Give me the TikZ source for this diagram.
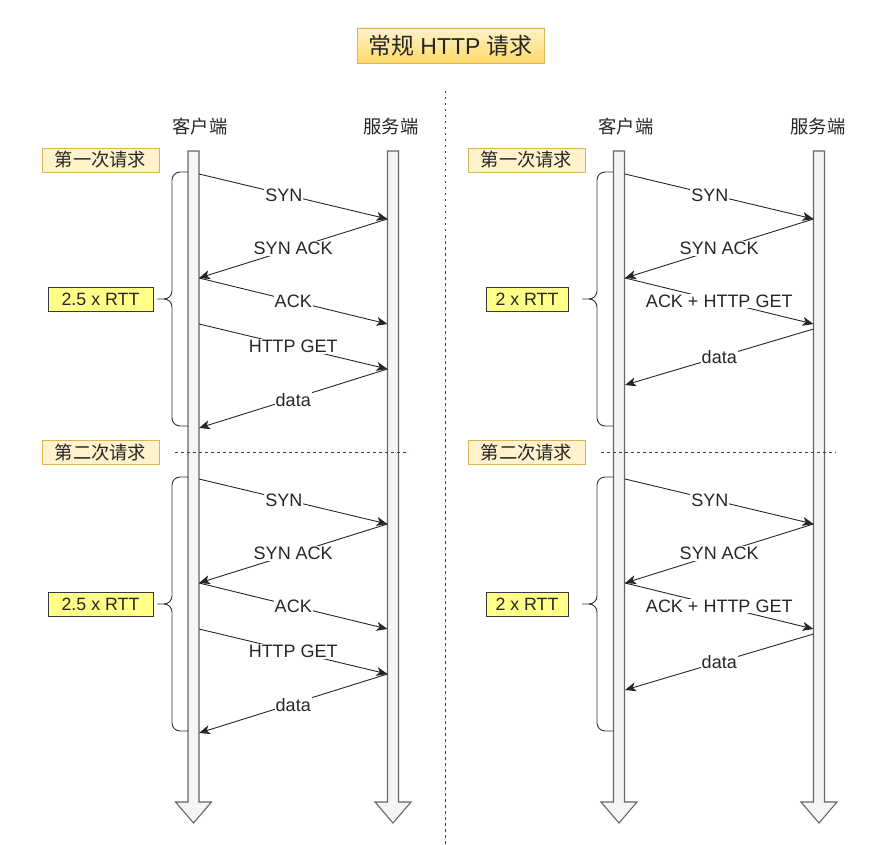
\documentclass[tikz,border=0pt]{standalone}
\usepackage{fontspec}
\setmainfont{Liberation Sans}
\newfontfamily\cjk{Noto Sans CJK SC}
\usetikzlibrary{arrows.meta}
\definecolor{notefill}{HTML}{FFF2CC}
\definecolor{noteline}{HTML}{D6B656}
\definecolor{rttfill}{HTML}{FFFF88}
\definecolor{rttline}{HTML}{36393D}
\definecolor{barfill}{HTML}{F5F5F5}
\definecolor{barline}{HTML}{666666}
\definecolor{titletop}{HTML}{FFF2CC}
\definecolor{titlebot}{HTML}{FFD966}
\tikzset{
  lifeline/.style={fill=barfill,draw=barline,line width=1.1pt,line join=miter},
  msg/.style={draw=black!85,line width=0.9pt,-{Stealth[length=11pt,width=9pt,inset=3pt]}},
  msglabel/.style={fill=white,inner sep=1pt,font=\fontsize{18}{20}\selectfont,text=black!85},
  reqbox/.style={fill=notefill,draw=noteline,line width=0.8pt,minimum width=117pt,minimum height=24pt,inner sep=0pt,font=\cjk\fontsize{18.3}{20}\selectfont,text=black!85},
  rttbox/.style={fill=rttfill,draw=rttline,line width=0.8pt,minimum height=24pt,inner sep=0pt,font=\fontsize{17.8}{20}\selectfont,text=black!85},
  sidelabel/.style={font=\cjk\fontsize{18.3}{20}\selectfont,text=black!85},
  brace/.style={draw=black!80,line width=0.9pt},
  divider/.style={draw=black!75,line width=1pt,dash pattern=on 2.5pt off 3.5pt},
}
\begin{document}
\begin{tikzpicture}[x=1pt,y=-1pt]
\useasboundingbox (0,0) rectangle (894,845);

% title
\node[draw=noteline,line width=0.8pt,top color=titletop,bottom color=titlebot,
      minimum width=187pt,minimum height=35pt,inner sep=0pt,text=black!85,
      font=\fontsize{23}{26}\selectfont] (title) at (450.5,45.5)
      {{\cjk 常规} HTTP {\cjk 请求}};

% separator between the two schemes
\coordinate (divtop) at (445.5,91);
\coordinate (divbot) at (445.5,845);
\draw[divider] (divtop) -- (divbot);

% lifelines drawn as down arrows
\foreach \nm/\cx in {lc/193.5, ls/393, rc/619, rs/819}{
  \draw[lifeline] (\cx-5.5,151) -- (\cx+5.5,151) -- (\cx+5.5,802) -- (\cx+18,802)
     -- (\cx,823) -- (\cx-18,802) -- (\cx-5.5,802) -- cycle;
  \coordinate (\nm) at (\cx,151);
}

% column headings
\node[sidelabel] (lclabel) at (200,127) {客户端};
\node[sidelabel] (lslabel) at (391,127) {服务端};
\node[sidelabel] (rclabel) at (626,127) {客户端};
\node[sidelabel] (rslabel) at (818,127) {服务端};

% separators between first and second request
\coordinate (lsepa) at (175,452);
\coordinate (lsepb) at (409,452);
\coordinate (rsepa) at (601,452);
\coordinate (rsepb) at (836,452);
\draw[divider,line width=0.9pt] (lsepa) -- (lsepb);
\draw[divider,line width=0.9pt] (rsepa) -- (rsepb);

% request tags
\node[reqbox] (lreq1) at (100.5,160) {第一次请求};
\node[reqbox] (lreq2) at (100.5,452.5) {第二次请求};
\node[reqbox] (rreq1) at (526.5,160) {第一次请求};
\node[reqbox] (rreq2) at (526.5,452.5) {第二次请求};

\foreach \i/\o in {1/0, 2/305}{
  % --- regular HTTP: separate ACK and GET ---
  \coordinate (lc1\i) at (199,174+\o);
  \coordinate (ls1\i) at (387.5,219+\o);
  \coordinate (lc2\i) at (199,278+\o);
  \coordinate (ls2\i) at (387.5,324+\o);
  \coordinate (lc3\i) at (199,324+\o);
  \coordinate (ls3\i) at (387.5,369+\o);
  \coordinate (lc4\i) at (199,428+\o);
  \draw[msg] (lc1\i) -- node[msglabel,pos=0.45,yshift=-1.5pt] {SYN} (ls1\i);
  \draw[msg] (ls1\i) -- node[msglabel] {SYN ACK} (lc2\i);
  \draw[msg] (lc2\i) -- node[msglabel] {ACK} (ls2\i);
  \draw[msg] (lc3\i) -- node[msglabel] {HTTP GET} (ls3\i);
  \draw[msg] (ls3\i) -- node[msglabel,yshift=-1.5pt] {data} (lc4\i);

  \draw[brace] (188,172+\o) -- (180,172+\o) to[out=180,in=90] (172,180+\o)
     -- (172,291+\o) to[out=-90,in=0] (164,299+\o) -- (157,299+\o);
  \draw[brace] (164,299+\o) to[out=0,in=90] (172,307+\o)
     -- (172,418+\o) to[out=-90,in=180] (180,426+\o) -- (188,426+\o);
  \node[rttbox,minimum width=105pt] (lrtt\i) at (100.5,299+\o) {2.5 x RTT};

  % --- ACK piggy-backs the GET ---
  \coordinate (rc1\i) at (625,174+\o);
  \coordinate (rs1\i) at (813.5,219+\o);
  \coordinate (rc2\i) at (625,278+\o);
  \coordinate (rs2\i) at (813.5,324+\o);
  \coordinate (rs3\i) at (813.5,329+\o);
  \coordinate (rc3\i) at (625,385+\o);
  \draw[msg] (rc1\i) -- node[msglabel,pos=0.45,yshift=-1.5pt] {SYN} (rs1\i);
  \draw[msg] (rs1\i) -- node[msglabel] {SYN ACK} (rc2\i);
  \draw[msg] (rc2\i) -- node[msglabel] {ACK + HTTP GET} (rs2\i);
  \draw[msg] (rs3\i) -- node[msglabel] {data} (rc3\i);

  \draw[brace] (613,172+\o) -- (605,172+\o) to[out=180,in=90] (597,180+\o)
     -- (597,291+\o) to[out=-90,in=0] (589,299+\o) -- (582,299+\o);
  \draw[brace] (589,299+\o) to[out=0,in=90] (597,307+\o)
     -- (597,418+\o) to[out=-90,in=180] (605,426+\o) -- (613,426+\o);
  \node[rttbox,minimum width=82pt] (rrtt\i) at (527,299+\o) {2 x RTT};
}
\end{tikzpicture}
\end{document}
